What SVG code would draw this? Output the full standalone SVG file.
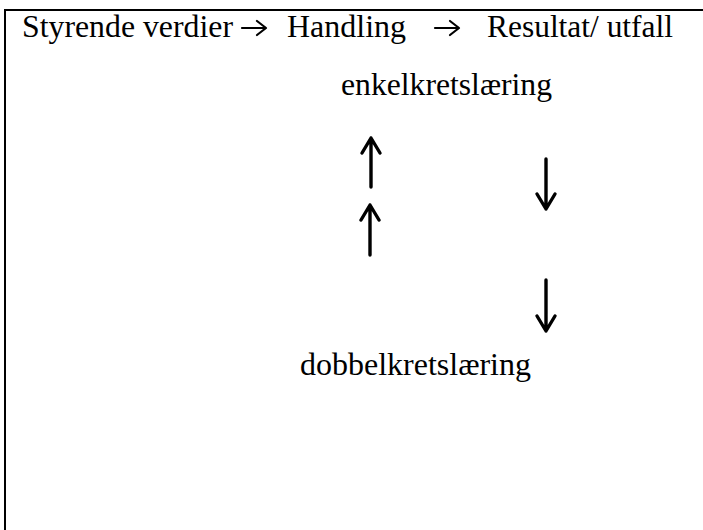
<svg xmlns="http://www.w3.org/2000/svg" width="703" height="530" viewBox="0 0 703 530">
  <style>
    .frame { fill: none; stroke: #000; stroke-width: 2; }
    .lbl { font-family: "Liberation Serif", "Times New Roman", serif; font-size: 31px; fill: #000; }
    .arrow { fill: none; stroke: #000; stroke-width: 3.4; stroke-linecap: round; stroke-linejoin: round; }
    .harrow { fill: none; stroke: #000; stroke-width: 2.2; stroke-linecap: round; stroke-linejoin: round; }
  </style>
  <rect x="0" y="0" width="703" height="530" fill="#fff"/>
  <!-- frame: left and top edges -->
  <path class="frame" d="M5,530 V10 H703"/>

  <g id="header">
    <text class="lbl" x="22" y="37" textLength="211" lengthAdjust="spacingAndGlyphs">Styrende verdier</text>
    <text class="lbl" x="287" y="37" textLength="119" lengthAdjust="spacingAndGlyphs">Handling</text>
    <text class="lbl" x="487" y="37" textLength="186" lengthAdjust="spacingAndGlyphs">Resultat/ utfall</text>
  </g>

  <g id="header-arrows">
    <path class="harrow" d="M242,28 H265 M257,21 L266,28 L257,35"/>
    <path class="harrow" d="M435,28 H458 M450,21 L459,28 L450,35"/>
  </g>

  <g id="enkelkretslaering">
    <text class="lbl" x="341" y="95" textLength="211" lengthAdjust="spacingAndGlyphs">enkelkretslæring</text>
  </g>

  <g id="dobbelkretslaering">
    <text class="lbl" x="300" y="375" textLength="231" lengthAdjust="spacingAndGlyphs">dobbelkretslæring</text>
  </g>

  <g id="connectors">
    <!-- upward arrows -->
    <path class="arrow" d="M371,187 V138 M362,153 L371,138 L380,153"/>
    <path class="arrow" d="M370,255 V205 M361,220 L370,205 L379,220"/>
    <!-- downward arrows -->
    <path class="arrow" d="M546,159 V209 M537,194 L546,209 L555,194"/>
    <path class="arrow" d="M546,280 V331 M537,316 L546,331 L555,316"/>
  </g>
</svg>
